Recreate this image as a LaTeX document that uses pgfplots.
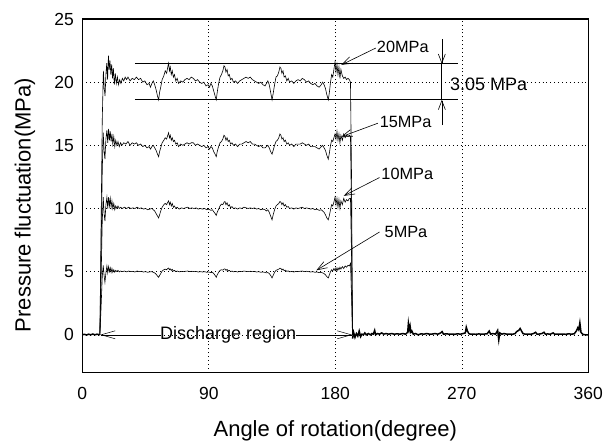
\documentclass[border=0pt]{standalone}
\usepackage{fontspec}
\setmainfont{Liberation Sans}
\usepackage{pgfplots}
\pgfplotsset{compat=1.18}
\usetikzlibrary{arrows.meta}
\begin{document}
\begin{tikzpicture}
\begin{axis}[
  width=506pt, height=353.7pt, scale only axis,
  xmin=0, xmax=360, ymin=-3, ymax=25,
  xtick={0,90,180,270,360}, ytick={0,5,10,15,20,25},
  major tick length=0pt,
  axis line style={line width=1.2pt},
  grid=major,
  major grid style={black, line width=0.6pt, dash pattern=on 0.9pt off 3pt},
  /pgf/number format/assume math mode=true,
  tick label style={font=\fontsize{17.5}{20}\selectfont},
  xticklabel style={yshift=-11pt},
  yticklabel style={xshift=-5pt},
  xlabel={Angle of rotation(degree)},
  ylabel={Pressure fluctuation(MPa)},
  label style={font=\fontsize{22}{26}\selectfont},
  xlabel style={at={(axis description cs:0.5,-0.181)}, anchor=base},
  ylabel style={at={(axis description cs:-0.1132,0.474)}, anchor=center, rotate=0},
  clip=true,
]
% 20 MPa
\addplot[black, line width=0.6pt] coordinates {
(12.5,0)(13.3,8)(14.2,17)(15.0,20.9)(15.6,19.5)(16.2,18.9)(16.8,20.6)(17.4,21.5)(18.0,20.2)(18.6,22.1)(19.2,21.0)(19.7,21.7)(20.3,20.6)(20.9,21.4)(21.5,20.3)(22.1,21.1)(22.8,19.8)(23.5,20.7)(24.2,19.9)(25.0,20.4)(25.8,19.8)(26.6,20.2)(27.5,19.9)(28.5,20.3)(29.5,20.1)(30.5,20.4)(31.5,20.2)(32.5,20.4)(34.0,20.1)(35.5,20.3)(37.0,20.2)(38.5,20.4)(40.0,20.2)(41.5,20.3)(43.0,20.0)(44.5,20.1)(46.0,19.8)(47.5,19.9)(48.5,19.6)(49.5,19.9)(50.5,20.1)(51.5,19.8)(52.5,19.4)(53.5,18.9)(54.3,18.6)(55.0,19.2)(55.8,19.6)(56.8,20.2)(58.0,20.5)(59.0,20.9)(60.0,20.7)(60.8,21.2)(61.4,21.5)(62.0,20.9)(62.6,21.2)(63.3,20.6)(64.0,20.9)(64.8,20.4)(65.6,20.6)(66.5,20.1)(67.5,20.3)(68.5,19.9)(70.0,20.1)(71.5,20.0)(73.0,20.2)(74.5,20.3)(76.0,20.2)(77.5,20.4)(79.0,20.3)(80.5,20.1)(82.0,20.2)(83.5,20.0)(85.0,19.9)(86.5,20.0)(88.0,19.7)(89.5,19.8)(90.5,19.6)(91.5,19.9)(92.5,19.7)(93.5,19.3)(94.5,18.9)(95.3,18.6)(96.0,19.2)(97.0,19.9)(98.0,20.4)(99.0,20.6)(100.0,20.9)(100.8,21.3)(101.5,21.2)(102.2,20.8)(103.0,21.0)(103.8,20.5)(104.6,20.6)(105.5,20.2)(106.5,20.3)(107.5,20.0)(109.0,20.1)(110.5,19.9)(112.0,20.1)(113.5,20.2)(115.0,20.3)(116.5,20.4)(118.0,20.3)(119.5,20.4)(121.0,20.2)(122.5,20.1)(124.0,20.0)(125.5,19.9)(127.0,20.0)(128.5,19.8)(130.0,19.7)(131.0,19.9)(132.0,20.1)(133.0,19.8)(134.0,19.2)(135.0,18.6)(135.8,19.1)(136.8,19.8)(137.8,20.4)(138.8,20.5)(139.8,20.8)(140.6,21.2)(141.3,21.1)(142.0,20.7)(142.8,20.9)(143.6,20.4)(144.5,20.5)(145.5,20.1)(146.5,20.3)(147.5,20.0)(149.0,20.1)(150.5,19.9)(152.0,20.1)(153.5,20.2)(155.0,20.1)(156.5,20.3)(158.0,20.2)(159.5,20.0)(161.0,20.1)(162.5,19.9)(164.0,19.8)(165.5,19.9)(167.0,19.7)(168.5,19.6)(170.0,19.8)(171.0,20.0)(172.0,19.8)(173.0,19.5)(174.0,19.0)(175.0,18.6)(175.8,19.2)(176.6,20.0)(177.4,20.6)(178.2,20.4)(179.0,21.0)(179.8,21.6)(180.5,20.8)(181.2,21.4)(181.9,20.6)(182.6,21.2)(183.3,20.3)(184.0,21.0)(185.0,20.5)(186.0,20.3)(187.0,20.4)(188.0,20.2)(189.0,20.3)(190.0,20.2)(190.8,20.0)(191.6,12)(192.2,0)
};
% 15 MPa
\addplot[black, line width=0.6pt] coordinates {
(12.5,0)(13.3,6)(14.2,13)(14.9,16.0)(15.5,14.6)(16.1,13.9)(16.8,15.5)(17.5,16.2)(18.1,15.2)(18.7,16.3)(19.3,15.4)(19.9,16.1)(20.5,15.3)(21.1,15.9)(21.7,15.1)(22.4,15.7)(23.1,14.9)(23.8,15.4)(24.6,15.0)(25.4,15.3)(26.3,14.9)(27.2,15.2)(28.2,15.0)(29.5,15.2)(31.0,15.1)(32.5,15.3)(34.0,15.0)(35.5,15.2)(37.0,15.1)(38.5,15.2)(40.0,15.0)(41.5,15.1)(43.0,14.9)(44.5,15.0)(46.0,14.8)(47.5,14.9)(48.5,14.7)(49.5,14.9)(50.5,15.0)(51.5,14.8)(52.5,14.6)(53.5,14.3)(54.3,14.1)(55.0,14.5)(55.8,14.8)(56.8,15.2)(58.0,15.4)(59.0,15.6)(60.0,15.5)(60.8,15.8)(61.4,16.0)(62.0,15.6)(62.6,15.8)(63.3,15.4)(64.0,15.6)(64.8,15.3)(65.6,15.4)(66.5,15.1)(67.5,15.2)(68.5,14.9)(70.0,15.1)(71.5,15.0)(73.0,15.1)(74.5,15.2)(76.0,15.1)(77.5,15.2)(79.0,15.2)(80.5,15.0)(82.0,15.1)(83.5,15.0)(85.0,14.9)(86.5,15.0)(88.0,14.8)(89.5,14.9)(90.5,14.7)(91.5,14.9)(92.5,14.8)(93.5,14.5)(94.5,14.3)(95.3,14.1)(96.0,14.5)(97.0,14.9)(98.0,15.2)(99.0,15.3)(100.0,15.5)(100.8,15.8)(101.5,15.7)(102.2,15.4)(103.0,15.6)(103.8,15.3)(104.6,15.4)(105.5,15.1)(106.5,15.2)(107.5,15.0)(109.0,15.1)(110.5,14.9)(112.0,15.1)(113.5,15.1)(115.0,15.2)(116.5,15.3)(118.0,15.2)(119.5,15.3)(121.0,15.1)(122.5,15.1)(124.0,15.0)(125.5,14.9)(127.0,15.0)(128.5,14.8)(130.0,14.8)(131.0,14.9)(132.0,15.0)(133.0,14.8)(134.0,14.5)(135.0,14.3)(135.8,14.6)(136.8,15.0)(137.8,15.3)(138.8,15.4)(139.8,15.6)(140.6,15.9)(141.3,15.8)(142.0,15.5)(142.8,15.6)(143.6,15.3)(144.5,15.4)(145.5,15.1)(146.5,15.2)(147.5,15.0)(149.0,15.1)(150.5,14.9)(152.0,15.1)(153.5,15.1)(155.0,15.1)(156.5,15.2)(158.0,15.1)(159.5,15.0)(161.0,15.1)(162.5,14.9)(164.0,14.9)(165.5,14.9)(167.0,14.8)(168.5,14.7)(170.0,14.9)(171.0,15.0)(172.0,14.8)(173.0,14.6)(174.0,14.2)(175.0,13.9)(175.8,14.4)(176.6,15.0)(177.4,15.4)(178.2,15.3)(179.0,15.6)(179.8,15.9)(180.5,15.5)(181.2,16.1)(181.9,15.4)(182.6,15.9)(183.3,15.2)(184.0,15.8)(185.0,15.4)(186.0,15.9)(187.0,15.6)(188.0,15.8)(189.0,15.7)(190.0,15.8)(190.8,15.7)(191.6,9)(192.2,0)
};
% 10 MPa
\addplot[black, line width=0.6pt] coordinates {
(12.5,0)(13.3,4)(14.2,9)(14.9,10.9)(15.5,9.6)(16.1,9.0)(16.8,10.3)(17.5,10.9)(18.1,10.0)(18.7,10.9)(19.3,10.2)(19.9,10.8)(20.5,10.1)(21.1,10.6)(21.7,10.0)(22.4,10.4)(23.1,9.9)(23.8,10.2)(24.6,10.0)(25.4,10.2)(26.3,10.0)(27.2,10.1)(28.5,10.0)(30.0,10.1)(31.5,10.0)(33.0,10.1)(34.5,10.0)(36.0,10.05)(37.5,10.0)(39.0,10.1)(40.5,10.0)(42.0,10.05)(43.5,9.95)(45.0,10.0)(46.5,9.9)(48.0,9.95)(49.5,10.0)(50.5,9.9)(51.5,9.8)(52.5,9.6)(53.5,9.4)(54.3,9.25)(55.0,9.5)(55.8,9.8)(56.8,10.1)(58.0,10.3)(59.0,10.4)(60.0,10.3)(60.8,10.5)(61.4,10.6)(62.0,10.3)(62.6,10.5)(63.3,10.2)(64.0,10.4)(64.8,10.1)(65.6,10.2)(66.5,10.0)(67.5,10.1)(69.0,9.95)(70.5,10.05)(72.0,10.0)(73.5,10.05)(75.0,10.1)(76.5,10.0)(78.0,10.05)(79.5,10.0)(81.0,10.05)(82.5,9.95)(84.0,10.0)(85.5,9.95)(87.0,10.0)(88.5,9.9)(90.0,9.95)(91.5,9.85)(92.5,9.9)(93.5,9.75)(94.5,9.6)(95.3,9.45)(96.0,9.7)(97.0,9.95)(98.0,10.2)(99.0,10.35)(100.0,10.3)(100.8,10.5)(101.5,10.55)(102.2,10.3)(103.0,10.45)(103.8,10.2)(104.6,10.3)(105.5,10.05)(106.5,10.15)(107.5,10.0)(109.0,10.05)(110.5,9.95)(112.0,10.05)(113.5,10.0)(115.0,10.1)(116.5,10.05)(118.0,10.0)(119.5,10.05)(121.0,10.0)(122.5,10.05)(124.0,9.95)(125.5,10.0)(127.0,9.9)(128.5,9.95)(130.0,9.9)(131.0,9.8)(132.0,9.9)(133.0,9.7)(134.0,9.4)(135.0,9.1)(135.8,9.5)(136.8,9.9)(137.8,10.2)(138.8,10.3)(139.8,10.4)(140.6,10.55)(141.3,10.5)(142.0,10.3)(142.8,10.45)(143.6,10.2)(144.5,10.3)(145.5,10.1)(146.5,10.15)(147.5,10.0)(149.0,10.05)(150.5,9.95)(152.0,10.05)(153.5,10.0)(155.0,10.05)(156.5,10.1)(158.0,10.0)(159.5,10.05)(161.0,10.0)(162.5,9.95)(164.0,10.0)(165.5,9.9)(167.0,9.95)(168.5,9.85)(170.0,9.9)(171.0,9.8)(172.0,9.7)(173.0,9.5)(174.0,9.25)(175.0,9.1)(175.8,9.45)(176.6,9.9)(177.4,10.3)(178.2,10.2)(179.0,10.5)(179.8,10.9)(180.5,10.3)(181.2,10.8)(181.9,10.1)(182.6,10.7)(183.3,10.0)(184.0,10.6)(185.0,10.3)(186.0,10.8)(187.0,10.5)(188.0,10.7)(189.0,10.6)(190.0,10.8)(190.8,10.8)(191.6,6)(192.2,0)
};
% 5 MPa
\addplot[black, line width=0.6pt] coordinates {
(12.5,0)(13.3,2)(14.2,4.6)(14.9,5.5)(15.5,4.7)(16.1,4.15)(16.8,4.9)(17.5,5.45)(18.1,4.9)(18.7,5.4)(19.3,5.0)(19.9,5.3)(20.5,4.95)(21.1,5.25)(21.7,4.95)(22.4,5.15)(23.1,4.95)(23.8,5.1)(24.6,5.0)(25.4,5.1)(26.3,4.98)(27.2,5.05)(28.5,5.0)(30.0,5.05)(31.5,4.98)(33.0,5.05)(34.5,5.0)(36.0,5.02)(37.5,4.97)(39.0,5.05)(40.5,5.0)(42.0,5.03)(43.5,4.97)(45.0,5.0)(46.5,4.95)(48.0,4.98)(49.5,5.0)(50.5,4.95)(51.5,4.9)(52.5,4.8)(53.5,4.65)(54.3,4.55)(55.0,4.7)(55.8,4.85)(56.8,5.05)(58.0,5.15)(59.0,5.2)(60.0,5.15)(60.8,5.25)(61.4,5.28)(62.0,5.15)(62.6,5.22)(63.3,5.1)(64.0,5.18)(64.8,5.05)(65.6,5.1)(66.5,5.0)(67.5,5.05)(69.0,4.98)(70.5,5.02)(72.0,5.0)(73.5,5.03)(75.0,5.05)(76.5,5.0)(78.0,5.03)(79.5,5.0)(81.0,5.02)(82.5,4.97)(84.0,5.0)(85.5,4.97)(87.0,5.0)(88.5,4.95)(90.0,4.97)(91.5,4.92)(92.5,4.95)(93.5,4.85)(94.5,4.7)(95.3,4.55)(96.0,4.75)(97.0,4.95)(98.0,5.1)(99.0,5.15)(100.0,5.12)(100.8,5.2)(101.5,5.22)(102.2,5.1)(103.0,5.18)(103.8,5.05)(104.6,5.1)(105.5,5.0)(106.5,5.05)(107.5,4.98)(109.0,5.02)(110.5,4.97)(112.0,5.02)(113.5,5.0)(115.0,5.05)(116.5,5.02)(118.0,5.0)(119.5,5.03)(121.0,5.0)(122.5,5.02)(124.0,4.97)(125.5,5.0)(127.0,4.95)(128.5,4.97)(130.0,4.94)(131.0,4.9)(132.0,4.93)(133.0,4.85)(134.0,4.7)(135.0,4.5)(135.8,4.7)(136.8,4.95)(137.8,5.1)(138.8,5.15)(139.8,5.2)(140.6,5.28)(141.3,5.25)(142.0,5.12)(142.8,5.2)(143.6,5.08)(144.5,5.12)(145.5,5.02)(146.5,5.06)(147.5,4.98)(149.0,5.02)(150.5,4.97)(152.0,5.02)(153.5,5.0)(155.0,5.03)(156.5,5.05)(158.0,5.0)(159.5,5.03)(161.0,5.0)(162.5,4.97)(164.0,5.0)(165.5,4.95)(167.0,4.97)(168.5,4.92)(170.0,4.95)(171.0,4.9)(172.0,4.85)(173.0,4.75)(174.0,4.6)(175.0,4.5)(175.8,4.75)(176.6,5.0)(177.4,5.15)(178.2,5.05)(179.0,5.25)(179.8,5.1)(180.5,5.3)(181.2,5.05)(181.9,5.3)(182.6,5.15)(183.3,5.35)(184.0,5.2)(185.0,5.4)(186.0,5.25)(187.0,5.45)(188.0,5.35)(189.0,5.5)(190.0,5.45)(190.8,5.65)(191.6,3)(192.2,0)
};
% baseline (before discharge and after)
\addplot[black, line width=1.5pt] coordinates {
(0,0)(1.5,0.04)(3,-0.02)(4.5,0.05)(6,0.0)(7.5,0.06)(9,0.0)(10.5,0.05)(12.5,0)
};
\addplot[black, line width=1.5pt] coordinates {
(192.3,-0.3)(193,0.2)(194,-0.2)(195,0.1)(196,-0.1)(197,0.3)(198,-0.15)(199,0.05)(200,0.0)(201,0.15)(202,0.0)(203.5,0.1)(205,0.0)(206,0.1)(207,0.05)(208,0.35)(208.7,0.0)(210,0.1)(211.5,0.05)(213,0.15)(214.5,0.05)(216,0.1)(218,0.05)(220,0.1)(222,0.05)(224,0.08)(226,0.05)(228,0.1)(230,0.05)(231.5,0.2)(232,0.9)(232.6,0.4)(233.2,0.7)(233.8,0.2)(234.5,0.3)(235.5,0.05)(237,0.1)(239,0.0)(241,0.08)(243,0.05)(245,0.1)(247,0.05)(249,0.06)(251,0.1)(253,0.05)(255,0.15)(256,0.25)(257,0.05)(259,0.08)(261,0.05)(263,0.06)(265,0.04)(267,0.08)(269,0.05)(271,0.1)(272.5,0.15)(273.2,0.6)(274,0.3)(275,0.1)(276,0.05)(278,0.06)(280,0.04)(282,0.07)(284,0.05)(286,0.06)(288,0.08)(289.5,0.3)(290.5,0.05)(292,0.1)(294,0.05)(295.5,0.35)(296.3,-0.4)(297,0.15)(298.5,0.05)(300,0.1)(302,0.05)(304,0.06)(306,0.04)(308,0.1)(309,0.25)(310.5,0.35)(311.5,0.5)(312.5,0.3)(313.5,0.1)(315,0.05)(317,0.06)(319,0.04)(321,0.1)(322.5,0.2)(323.5,0.05)(325,0.06)(327,0.1)(328.5,0.2)(329.5,0.05)(331,0.07)(333,0.05)(335,0.15)(336,0.05)(338,0.06)(340,0.05)(342,0.06)(344,0.04)(346,0.08)(348,0.05)(350,0.08)(351.5,0.3)(352.5,0.55)(353.2,0.4)(354,0.95)(354.8,0.2)(355.5,0.1)(356.5,0.02)(358,0.0)(360,0.0)
};
% range lines
\draw[line width=0.7pt] (axis cs:37.4,21.45) -- (axis cs:267.2,21.45);
\draw[line width=0.7pt] (axis cs:37.4,18.6) -- (axis cs:267.2,18.6);
\draw[line width=0.7pt] (axis cs:255.8,21.45) -- (axis cs:255.8,18.6);
\draw[line width=0.6pt, -{Straight Barb[length=9pt,width=7pt]}] (axis cs:255.8,23.4) -- (axis cs:255.8,21.45);
\draw[line width=0.6pt, -{Straight Barb[length=9pt,width=7pt]}] (axis cs:255.8,16.6) -- (axis cs:255.8,18.6);
\node[anchor=west, inner sep=0pt, font=\fontsize{18}{21}\selectfont] at (axis cs:261.5,19.85) {3.05 MPa};
% labels with arrows
\node[anchor=west, inner sep=0pt, font=\fontsize{16.3}{19}\selectfont] at (axis cs:209.5,22.8) {20MPa};
\draw[line width=0.6pt, -{Straight Barb[length=10pt,width=7pt]}] (axis cs:208.8,22.7) -- (axis cs:184.3,21.37);
\node[anchor=west, inner sep=0pt, font=\fontsize{16.3}{19}\selectfont] at (axis cs:211.5,16.87) {15MPa};
\draw[line width=0.6pt, -{Straight Barb[length=10pt,width=7pt]}] (axis cs:210.3,16.75) -- (axis cs:184.3,15.68);
\node[anchor=west, inner sep=0pt, font=\fontsize{16.3}{19}\selectfont] at (axis cs:212.7,12.7) {10MPa};
\draw[line width=0.6pt, -{Straight Barb[length=10pt,width=7pt]}] (axis cs:211.5,12.45) -- (axis cs:186.0,11.0);
\node[anchor=west, inner sep=0pt, font=\fontsize{16.3}{19}\selectfont] at (axis cs:215,8.14) {5MPa};
\draw[line width=0.6pt, -{Straight Barb[length=10pt,width=7pt]}] (axis cs:211.5,8.14) -- (axis cs:166.5,5.1);
% discharge region
\node[inner sep=0pt, font=\fontsize{18}{21}\selectfont] (dr) at (axis cs:103.7,0) {Discharge region};
\draw[line width=0.5pt, -{Straight Barb[length=14pt,width=8pt]}] (dr.west) -- (axis cs:12.8,0);
\draw[line width=0.5pt, -{Straight Barb[length=14pt,width=8pt]}] (dr.east) -- (axis cs:192.0,0);
\coordinate (sw) at (rel axis cs:0,0);
\coordinate (ne) at (rel axis cs:1,1);
\end{axis}
\pgfresetboundingbox
\path[use as bounding box] ([shift={(-82.3pt,-71.3pt)}]sw) rectangle ([shift={(24.7pt,19pt)}]ne);
\end{tikzpicture}
\end{document}
